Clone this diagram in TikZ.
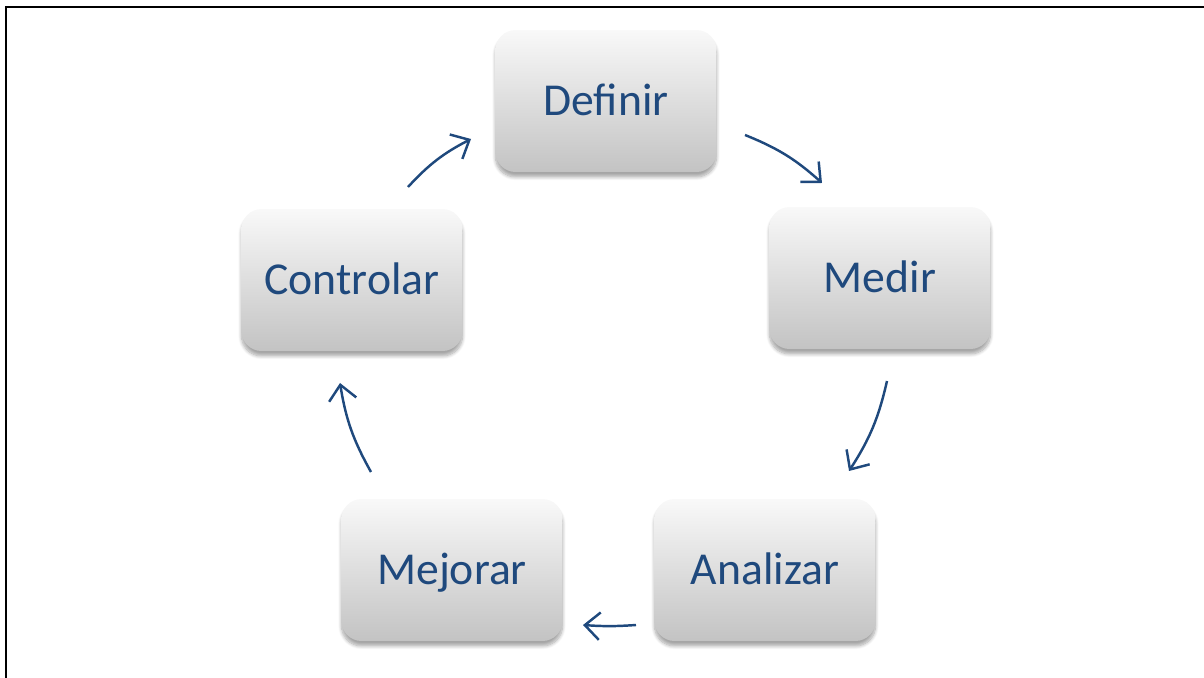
\documentclass[tikz,border=0pt]{standalone}
\usepackage{fontspec}
\setmainfont{Carlito}
\usetikzlibrary{arrows.meta,shadows.blur}
\definecolor{azul}{RGB}{31,73,125}
\begin{document}
\begin{tikzpicture}[x=0.02cm, y=-0.02cm,
  paso/.style={rounded corners=0.4cm, minimum width=4.42cm, minimum height=2.84cm,
    text height=0.59cm, text depth=0pt,
    top color=gray!5, bottom color=gray!47, text=azul, font=\fontsize{26}{30}\selectfont,
    blur shadow={shadow xshift=0pt, shadow yshift=-0.1cm, shadow opacity=35, shadow blur steps=8, shadow blur extra rounding=2pt}},
  flecha/.style={azul, line width=1.4pt, -{Straight Barb[length=3mm, width=5.5mm, line width=1.4pt]}}]
\useasboundingbox (0,0) rectangle (1204,678);
\draw[line width=1.2pt] (1204,7) -- (6,7) -- (6,678);
% pasos del ciclo
\node[paso] (def) at (606,101) {Definir};
\node[paso] (med) at (880,278) {Medir};
\node[paso] (ana) at (765,570) {Analizar};
\node[paso] (mej) at (452,570) {Mejorar};
\node[paso] (con) at (352,280) {Controlar};
% extremos de las flechas
\coordinate (a1) at (745,135); \coordinate (b1) at (822,183);
\coordinate (a2) at (887,381); \coordinate (b2) at (849,471);
\coordinate (a3) at (636,625); \coordinate (b3) at (583,625);
\coordinate (a4) at (371,472); \coordinate (b4) at (340,383);
\coordinate (a5) at (408,187); \coordinate (b5) at (471,139);
\foreach \i/\b in {1/10, 2/10, 3/4, 4/10, 5/10}
  \draw[flecha] (a\i) to[bend left=\b] (b\i);
\end{tikzpicture}
\end{document}
